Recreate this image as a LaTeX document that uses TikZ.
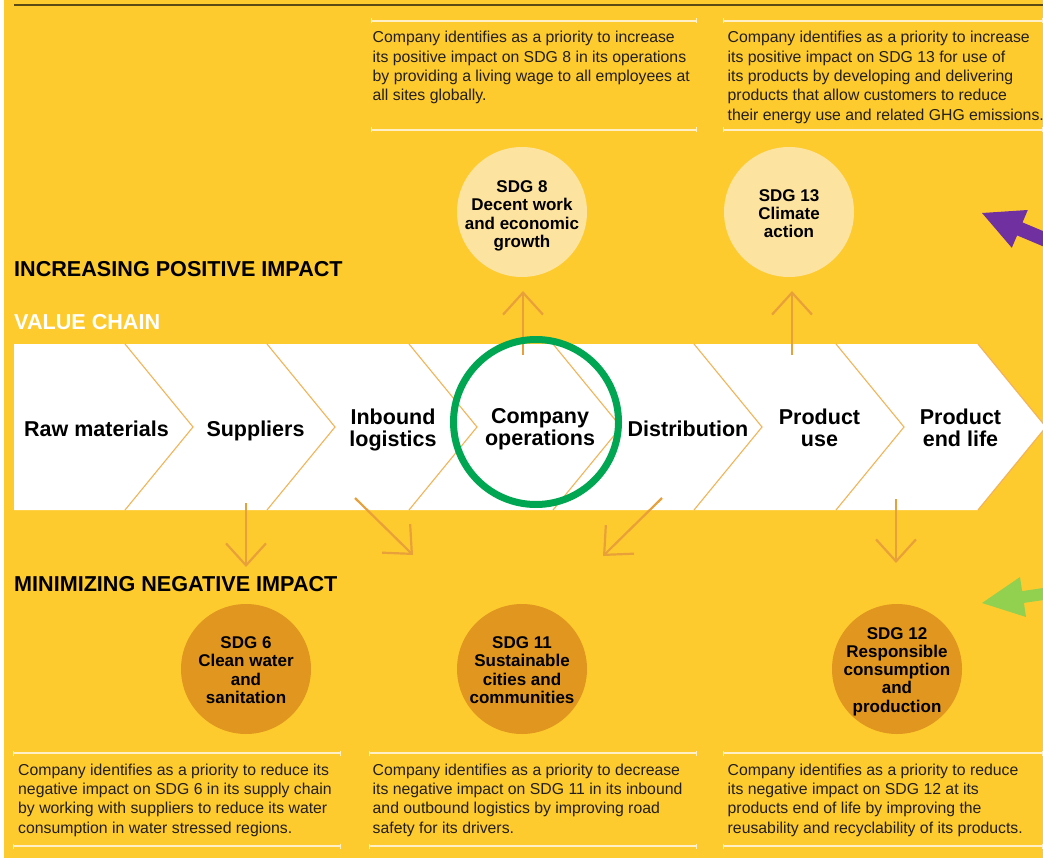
\documentclass[tikz,border=0pt]{standalone}
\usepackage{fontspec}
\setmainfont{Liberation Sans}
\usetikzlibrary{arrows.meta}
\definecolor{bgyellow}{RGB}{254,203,46}
\definecolor{topline}{RGB}{90,74,20}
\definecolor{txt}{RGB}{35,31,32}
\definecolor{arrowor}{RGB}{232,160,58}
\definecolor{chev}{RGB}{242,180,86}
\definecolor{lightcirc}{RGB}{253,227,160}
\definecolor{darkcirc}{RGB}{225,150,31}
\definecolor{ringgreen}{RGB}{0,166,81}
\definecolor{annpurple}{RGB}{112,48,160}
\definecolor{anngreen}{RGB}{146,208,80}
\definecolor{rulec}{RGB}{255,240,200}
\tikzset{
  desc/.style={anchor=north west, inner sep=0pt, align=left, text=txt, font=\fontsize{15.8}{19.4}\selectfont},
  heading/.style={anchor=base west, inner sep=0pt, font=\bfseries\fontsize{21.6}{24}\selectfont},
  stage/.style={inner sep=0pt, align=center, text=black, font=\bfseries\fontsize{21.5}{22}\selectfont},
  sdgtext/.style={anchor=north, inner sep=0pt, align=center, text=black, font=\bfseries\fontsize{17}{18.3}\selectfont},
  possdg/.style={circle, fill=lightcirc, minimum size=130pt, inner sep=0pt},
  negsdg/.style={circle, fill=darkcirc, minimum size=130pt, inner sep=0pt},
  impact/.style={draw=arrowor, line width=2.2pt, -{Straight Barb[length=22pt,width=40pt]}},
  chevline/.style={draw=chev, line width=1.1pt},
  rulebar/.style={draw=rulec, line width=1.2pt, {Bar[width=5pt]}-{Bar[width=5pt]}},
}
\begin{document}
\begin{tikzpicture}[x=1pt,y=-1pt]
\useasboundingbox (0,0) rectangle (1043,858);
\clip (0,0) rectangle (1043,858);
\fill[white] (0,0) rectangle (1043,858);
\fill[bgyellow] (4,0) rectangle (1043,858);
\draw[topline, line width=2pt] (14,5) -- (1043,5);

% description rules
\draw[rulebar] (371,21) -- (697,21);
\draw[rulebar] (371,130) -- (697,130);
\draw[rulebar] (723,21) -- (1043,21);
\draw[rulebar] (723,130) -- (1043,130);
\draw[rulebar] (13,753) -- (341,753);
\draw[rulebar] (13,846) -- (341,846);
\draw[rulebar] (369,753) -- (697,753);
\draw[rulebar] (369,846) -- (697,846);
\draw[rulebar] (723,753) -- (1043,753);
\draw[rulebar] (723,846) -- (1043,846);

% descriptions
\node[desc] (d8) at (372.5,31) {Company identifies as a priority to increase\\its positive impact on SDG 8 in its operations\\by providing a living wage to all employees at\\all sites globally.};
\node[desc] (d13) at (727.5,31) {Company identifies as a priority to increase\\its positive impact on SDG 13 for use of\\its products by developing and delivering\\products that allow customers to reduce\\their energy use and related GHG emissions.};
\node[desc] (d6) at (18,763.5) {Company identifies as a priority to reduce its\\negative impact on SDG 6 in its supply chain\\by working with suppliers to reduce its water\\consumption in water stressed regions.};
\node[desc] (d11) at (372.5,763.5) {Company identifies as a priority to decrease\\its negative impact on SDG 11 in its inbound\\and outbound logistics by improving road\\safety for its drivers.};
\node[desc] (d12) at (727.5,763.5) {Company identifies as a priority to reduce\\its negative impact on SDG 12 at its\\products end of life by improving the\\reusability and recyclability of its products.};

% headings
\node[heading, text=black] (inc) at (14,277) {INCREASING POSITIVE IMPACT};
\node[heading, text=white] (vc) at (14,329) {VALUE CHAIN};
\node[heading, text=black] (min) at (14,591) {MINIMIZING NEGATIVE IMPACT};

% value chain band
\fill[white] (14,344) -- (978,344) -- (1046,427) -- (978,510) -- (14,510) -- cycle;
\draw[chev, line width=1.2pt] (978,344) -- (1046,427) -- (978,510);
\foreach \x in {125,267,409,553,694,836}
  \draw[chevline] (\x,344) -- (\x+68,427) -- (\x,510);

\node[stage, anchor=base] (raw) at (96.5,436) {Raw materials};
\node[stage, anchor=base] (sup) at (255.5,436) {Suppliers};
\node[stage, anchor=north] (inb) at (393,408.5) {Inbound\\logistics};
\node[stage, anchor=north] (comp) at (540,408.5) {Company\\operations};
\node[stage, anchor=base] (dist) at (688,436) {Distribution};
\node[stage, anchor=north] (puse) at (819.5,408.5) {Product\\use};
\node[stage, anchor=north] (eol) at (960.5,408.5) {Product\\end life};

% SDG circles
\node[possdg] (sdg8) at (522,212) {};
\node[possdg] (sdg13) at (789,212) {};
\node[negsdg] (sdg6) at (246,669) {};
\node[negsdg] (sdg11) at (522,669) {};
\node[negsdg] (sdg12) at (897,669) {};
\node[sdgtext] (sdg8t) at (522,180.5) {SDG 8\\Decent work\\and economic\\growth};
\node[sdgtext] (sdg13t) at (789,189) {SDG 13\\Climate\\action};
\node[sdgtext] (sdg6t) at (246,636.5) {SDG 6\\Clean water\\and\\sanitation};
\node[sdgtext] (sdg11t) at (522,636.5) {SDG 11\\Sustainable\\cities and\\communities};
\node[sdgtext] (sdg12t) at (897,627) {SDG 12\\Responsible\\consumption\\and\\production};

% impact arrows
\coordinate (u8a) at (523,355); \coordinate (u8b) at (523,291);
\coordinate (u13a) at (792,355); \coordinate (u13b) at (792,291);
\coordinate (d6a) at (246,503); \coordinate (d6b) at (246,567);
\coordinate (dla) at (355,498); \coordinate (dlb) at (413,555);
\coordinate (dra) at (662,498); \coordinate (drb) at (603,556);
\coordinate (d12a) at (896,499); \coordinate (d12b) at (896,563);
\draw[impact] (u8a) -- (u8b);
\draw[impact] (u13a) -- (u13b);
\draw[impact] (d6a) -- (d6b);
\draw[impact] (dla) -- (dlb);
\draw[impact] (dra) -- (drb);
\draw[impact] (d12a) -- (d12b);

% highlight ring
\node[circle, draw=ringgreen, line width=7pt, minimum size=165pt, inner sep=0pt] (ring) at (536,422) {};

% annotation arrows
\fill[annpurple] (982,213) -- (1027.8,210) -- (1022.5,222.4) -- (1077.8,245.7) -- (1072.4,258.7) -- (1017.1,235.4) -- (1011.8,247.8) -- cycle;
\fill[anngreen] (982,603) -- (1020,577) -- (1022.1,591.1) -- (1081.5,582.4) -- (1083.3,594.2) -- (1023.9,602.9) -- (1026,617) -- cycle;
\end{tikzpicture}
\end{document}
